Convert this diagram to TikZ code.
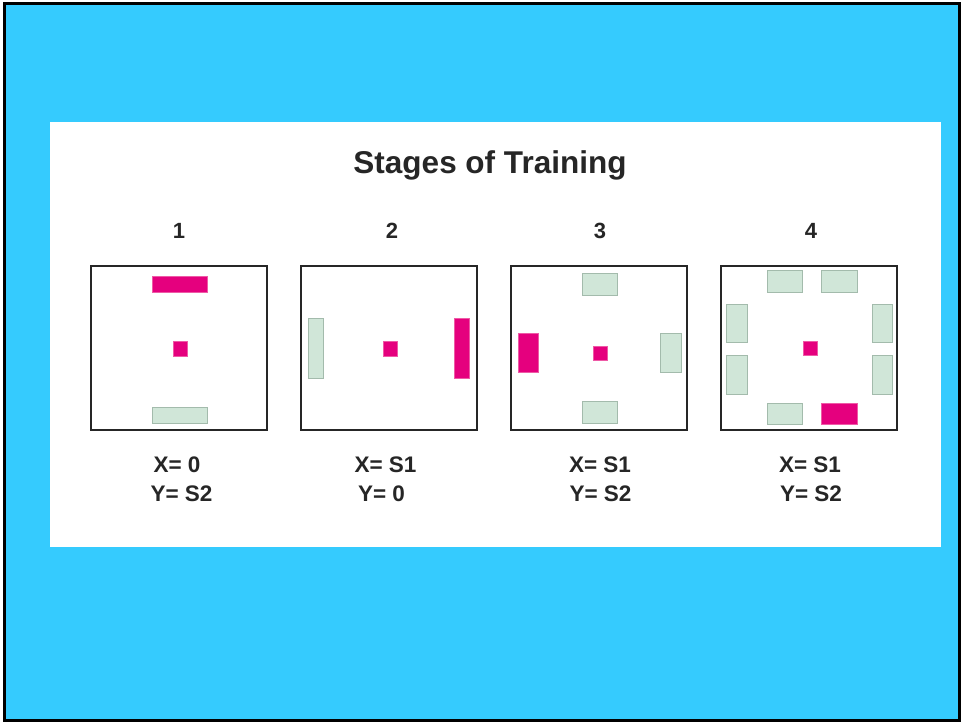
\documentclass[tikz,border=0pt]{standalone}
\usepackage{fontspec}
\setmainfont{Liberation Sans}
\definecolor{bgcyan}{HTML}{35CBFE}
\definecolor{pinkc}{HTML}{E5007E}
\definecolor{pinkedge}{HTML}{EE5AA6}
\definecolor{greenc}{HTML}{D0E6D8}
\definecolor{greenedge}{HTML}{A3BBAC}
\begin{document}
\begin{tikzpicture}[x=1pt,y=-1pt,
  arena/.style={draw=black!85,line width=2.6pt},
  pinkrect/.style={fill=pinkc,draw=pinkedge,line width=0.5pt},
  greenrect/.style={fill=greenc,draw=greenedge,line width=0.8pt},
  lbl/.style={font=\fontsize{22.5}{26}\selectfont\bfseries,text=black!85,inner sep=0pt},
  num/.style={font=\fontsize{22}{26}\selectfont\bfseries,text=black!85,inner sep=0pt}]
\useasboundingbox (0,0) rectangle (961,723);
\fill[white] (0,0) rectangle (961,723);
\draw[fill=bgcyan,draw=black,line width=2.6pt] (4.3,3.6) rectangle (959.5,720.3);
\fill[white] (50,122) rectangle (941,547);
\node[font=\fontsize{31.5}{36}\selectfont\bfseries,text=black!85,inner sep=0pt] (title) at (490,165) {Stages of Training};
% numbers
\node[num] (n1) at (179,231) {1};
\node[num] (n2) at (392,231) {2};
\node[num] (n3) at (600,231) {3};
\node[num] (n4) at (811,231) {4};
% panel 1
\draw[arena] (91,266) rectangle (267,430);
\draw[pinkrect] (152,276) rectangle (207,292);
\draw[pinkrect] (173,341) rectangle (187,356);
\draw[greenrect] (152,407) rectangle (207,423);
% panel 2
\draw[arena] (301,266) rectangle (477,430);
\draw[greenrect] (308,318) rectangle (323,378);
\draw[pinkrect] (383,341) rectangle (397,356);
\draw[pinkrect] (454,318) rectangle (469,378);
% panel 3
\draw[arena] (511,266) rectangle (687,430);
\draw[greenrect] (582,273) rectangle (617,295);
\draw[pinkrect] (518,333) rectangle (538,372);
\draw[pinkrect] (593,346) rectangle (607,360);
\draw[greenrect] (660,333) rectangle (681,372);
\draw[greenrect] (582,401) rectangle (617,423);
% panel 4
\draw[arena] (721,266) rectangle (897,430);
\draw[greenrect] (767,270) rectangle (802,292);
\draw[greenrect] (821,270) rectangle (857,292);
\draw[greenrect] (726,304) rectangle (747,342);
\draw[greenrect] (726,355) rectangle (747,394);
\draw[greenrect] (872,304) rectangle (892,342);
\draw[greenrect] (872,355) rectangle (892,394);
\draw[pinkrect] (803,341) rectangle (817,355);
\draw[greenrect] (767,403) rectangle (802,424);
\draw[pinkrect] (821,403) rectangle (857,424);
% labels
\node[lbl] (x1) at (177,465) {X= 0};
\node[lbl] (y1) at (181.5,494) {Y= S2};
\node[lbl] (x2) at (385.5,465) {X= S1};
\node[lbl] (y2) at (381.5,494) {Y= 0};
\node[lbl] (x3) at (600,465) {X= S1};
\node[lbl] (y3) at (600.5,494) {Y= S2};
\node[lbl] (x4) at (810,465) {X= S1};
\node[lbl] (y4) at (811,494) {Y= S2};
\end{tikzpicture}
\end{document}
